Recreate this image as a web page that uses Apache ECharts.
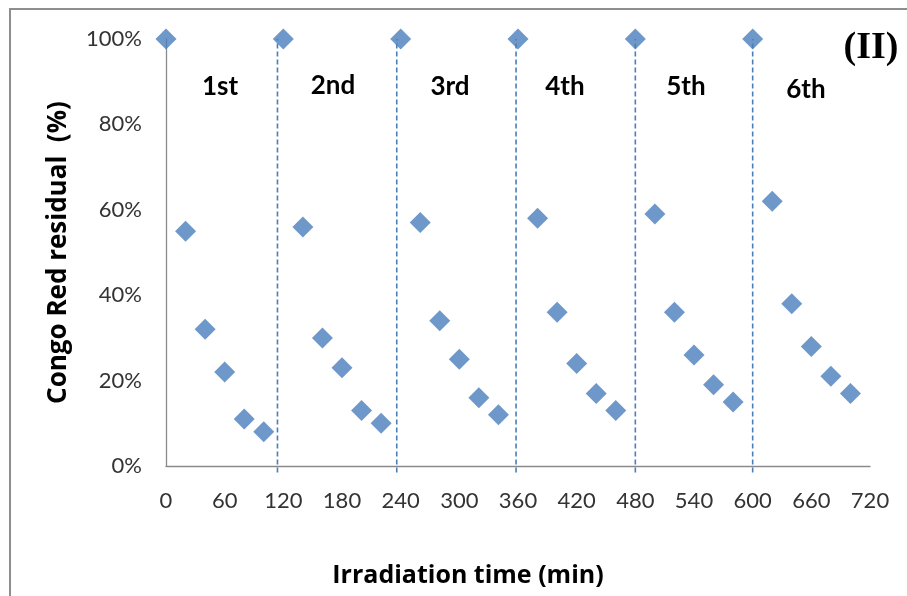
<!DOCTYPE html>
<html>
<head>
<meta charset="utf-8">
<script src="https://cdn.jsdelivr.net/npm/echarts@6/dist/echarts.min.js"></script>
<style>
html,body{margin:0;padding:0;background:#fff;}
#chart{width:907px;height:596px;}
</style>
</head>
<body>
<div id="chart"></div>
<script>
// Irradiation time (min) for each measured point
const times = [0, 20, 40, 60, 80, 100,
               120, 140, 160, 180, 200, 220,
               240, 260, 280, 300, 320, 340,
               360, 380, 400, 420, 440, 460,
               480, 500, 520, 540, 560, 580,
               600, 620, 640, 660, 680, 700];
// Congo Red residual (%)
const residual = [100, 55, 32, 22, 11, 8,
                  100, 56, 30, 23, 13, 10,
                  100, 57, 34, 25, 16, 12,
                  100, 58, 36, 24, 17, 13,
                  100, 59, 36, 26, 19, 15,
                  100, 62, 38, 28, 21, 17];
// cycle separators (min)
const separators = [114, 236, 358, 480, 600];
const cycleLabels = ['1st', '2nd', '3rd', '4th', '5th', '6th'];
const xTicks = [0, 60, 120, 180, 240, 300, 360, 420, 480, 540, 600, 660, 720];
const yTicks = [0, 20, 40, 60, 80, 100];

const chart = echarts.init(document.getElementById('chart'));
const blue = '#4a7ebb';
const font = 'Lato, "Open Sans", sans-serif';
const titleFont = '"Open Sans", Lato, sans-serif';

const sepSeries = separators.map(s => ({
  type: 'line',
  data: [[s, -1.5], [s, 100]],
  showSymbol: false,
  symbol: 'none',
  clip: false,
  silent: true,
  z: 1,
  lineStyle: {color: blue, width: 1.6, type: [5, 3]}
}));

const labelPos = [[220, 87], [333, 86], [450, 87], [565, 87], [686, 87], [806, 90]];

chart.setOption({
  backgroundColor: '#fff',
  animation: false,
  grid: {left: 166, right: 37, top: 39, bottom: 130, containLabel: false},
  xAxis: {
    type: 'value', min: xTicks[0], max: xTicks[xTicks.length - 1], interval: 60,
    axisLine: {show: true, lineStyle: {color: '#8a8a8a', width: 1.3}},
    axisTick: {show: false},
    splitLine: {show: false},
    axisLabel: {color: '#333', fontFamily: font, fontSize: 22, margin: 24}
  },
  yAxis: {
    type: 'value', min: yTicks[0], max: yTicks[yTicks.length - 1], interval: 20,
    name: 'Congo Red residual  (%)',
    nameLocation: 'middle', nameGap: 94,
    nameTextStyle: {color: '#000', fontFamily: titleFont, fontSize: 26, fontWeight: 'bold'},
    axisLine: {show: true, lineStyle: {color: '#8a8a8a', width: 1.3}},
    axisTick: {show: false},
    splitLine: {show: false},
    axisLabel: {color: '#333', fontFamily: font, fontSize: 22, margin: 24, formatter: '{value}%'}
  },
  series: sepSeries.concat([{
    type: 'scatter',
    data: times.map((t, i) => [t, residual[i]]),
    symbol: 'diamond',
    symbolSize: 21,
    clip: false,
    z: 3,
    itemStyle: {color: blue}
  }]),
  graphic: [
    {type: 'rect', shape: {x: 10, y: 9, width: 1000, height: 700}, style: {fill: 'none', stroke: '#8e8e8e', lineWidth: 2}, silent: true},
    {type: 'text', x: 468, y: 576, style: {text: 'Irradiation time (min)', fontFamily: titleFont, fontSize: 25, fontWeight: 'bold', fill: '#000', textAlign: 'center', textVerticalAlign: 'middle'}},
    {type: 'text', x: 871, y: 48, style: {text: '(II)', fontFamily: '"Liberation Serif", "DejaVu Serif", serif', fontSize: 38, fontWeight: 'bold', fill: '#000', textAlign: 'center', textVerticalAlign: 'middle'}}
  ].concat(cycleLabels.map((t, i) => ({
    type: 'text', x: labelPos[i][0], y: labelPos[i][1],
    style: {text: t, fontFamily: font, fontSize: 26, fontWeight: 'bold', fill: '#000', textAlign: 'center', textVerticalAlign: 'middle'}
  })))
});
</script>
</body>
</html>
